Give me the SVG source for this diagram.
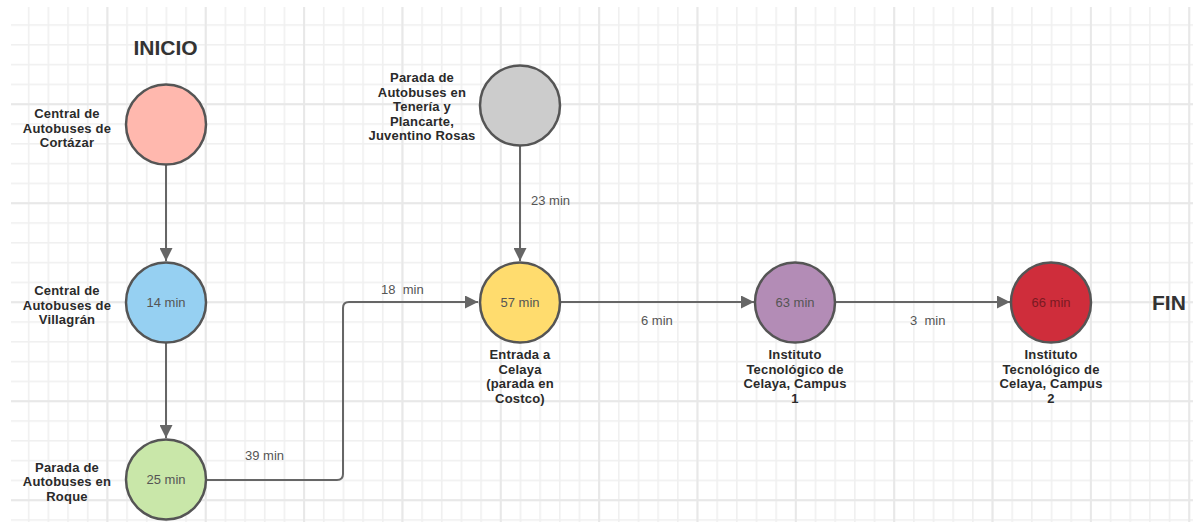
<svg xmlns="http://www.w3.org/2000/svg" width="1193" height="522" viewBox="0 0 1193 522">
<style>
.node{stroke:#555;stroke-width:2.5}
.lbl{font-family:"Liberation Sans",Arial,sans-serif;font-weight:bold;font-size:13px;letter-spacing:0.2px;fill:#2a2a2a;text-anchor:middle}
.big{font-family:"Liberation Sans",Arial,sans-serif;font-weight:bold;font-size:21px;fill:#333}
.in{font-family:"Liberation Sans",Arial,sans-serif;font-size:13px;fill:#555;text-anchor:middle}
.el{font-family:"Liberation Sans",Arial,sans-serif;font-size:13px;fill:#555}
.edge{fill:none;stroke:#666;stroke-width:2}
</style>
<defs>
<pattern id="minor" patternUnits="userSpaceOnUse" x="8.2" y="4.4" width="19.67" height="19.8">
<rect x="0" y="0" width="1.6" height="19.8" fill="#f0f0f0"/>
<rect x="0" y="0" width="19.67" height="1.6" fill="#f0f0f0"/>
</pattern>
<pattern id="major" patternUnits="userSpaceOnUse" x="8" y="4.2" width="98.35" height="99">
<rect x="0" y="0" width="2" height="99" fill="#e8e8e8"/>
<rect x="0" y="0" width="98.35" height="2" fill="#e8e8e8"/>
</pattern>
<marker id="arr" viewBox="0 0 10 10" refX="10" refY="5" markerWidth="8.5" markerHeight="6.5" markerUnits="strokeWidth" orient="auto">
<path d="M0,0 L10,5 L0,10 z" fill="#666"/>
</marker>
</defs>
<rect width="1193" height="522" fill="#ffffff"/>
<rect x="11" y="7" width="1182" height="515" fill="url(#minor)"/>
<rect x="11" y="7" width="1182" height="515" fill="url(#major)"/>

<text class="big" x="165.5" y="54.5" text-anchor="middle">INICIO</text>
<text class="big" x="1152" y="310">FIN</text>

<g id="connectors">
<line class="edge" x1="166" y1="165" x2="166" y2="261" marker-end="url(#arr)"/>
<line class="edge" x1="166" y1="343" x2="166" y2="438" marker-end="url(#arr)"/>
<path class="edge" d="M206,480 H337 Q343,480 343,474 V308 Q343,302 349,302 H478" marker-end="url(#arr)"/>
<line class="edge" x1="520" y1="146" x2="520" y2="261" marker-end="url(#arr)"/>
<line class="edge" x1="560" y1="302" x2="754" y2="302" marker-end="url(#arr)"/>
<line class="edge" x1="835" y1="302" x2="1010" y2="302" marker-end="url(#arr)"/>
<text class="el" x="245" y="460">39 min</text>
<text class="el" x="381" y="294" xml:space="preserve">18  min</text>
<text class="el" x="531" y="205">23 min</text>
<text class="el" x="641" y="325">6 min</text>
<text class="el" x="910" y="325" xml:space="preserve">3  min</text>
</g>

<g id="n-cortazar">
<circle class="node" cx="166" cy="124.5" r="40" fill="#ffb8ae"/>
<text class="lbl" x="67" y="118">Central de</text>
<text class="lbl" x="67" y="132.5">Autobuses de</text>
<text class="lbl" x="67" y="147">Cortázar</text>
</g>

<g id="n-villagran">
<circle class="node" cx="166" cy="302.5" r="40" fill="#96d0f2"/>
<text class="in" x="166" y="307">14 min</text>
<text class="lbl" x="67" y="295">Central de</text>
<text class="lbl" x="67" y="309.5">Autobuses de</text>
<text class="lbl" x="67" y="324">Villagrán</text>
</g>

<g id="n-roque">
<circle class="node" cx="166" cy="479.5" r="40" fill="#c9e7a9"/>
<text class="in" x="166" y="484">25 min</text>
<text class="lbl" x="67" y="471.5">Parada de</text>
<text class="lbl" x="67" y="486">Autobuses en</text>
<text class="lbl" x="67" y="500.5">Roque</text>
</g>

<g id="n-teneria">
<circle class="node" cx="520" cy="105.5" r="40" fill="#cccccc"/>
<text class="lbl" x="422" y="82">Parada de</text>
<text class="lbl" x="422" y="96.5">Autobuses en</text>
<text class="lbl" x="422" y="111">Tenería y</text>
<text class="lbl" x="422" y="125.5">Plancarte,</text>
<text class="lbl" x="422" y="140">Juventino Rosas</text>
</g>

<g id="n-entrada">
<circle class="node" cx="520" cy="302.5" r="40" fill="#ffdc6e"/>
<text class="in" x="520" y="307">57 min</text>
<text class="lbl" x="520" y="359">Entrada a</text>
<text class="lbl" x="520" y="373.5">Celaya</text>
<text class="lbl" x="520" y="388">(parada en</text>
<text class="lbl" x="520" y="402.5">Costco)</text>
</g>

<g id="n-campus1">
<circle class="node" cx="795" cy="302.5" r="40" fill="#b38cb6"/>
<text class="in" x="795" y="307">63 min</text>
<text class="lbl" x="795" y="359">Instituto</text>
<text class="lbl" x="795" y="373.5">Tecnológico de</text>
<text class="lbl" x="795" y="388">Celaya, Campus</text>
<text class="lbl" x="795" y="402.5">1</text>
</g>

<g id="n-campus2">
<circle class="node" cx="1051" cy="302.5" r="40" fill="#cf2d3b"/>
<text class="in" x="1051" y="307" style="fill:#7a1a22">66 min</text>
<text class="lbl" x="1051" y="359">Instituto</text>
<text class="lbl" x="1051" y="373.5">Tecnológico de</text>
<text class="lbl" x="1051" y="388">Celaya, Campus</text>
<text class="lbl" x="1051" y="402.5">2</text>
</g>
</svg>
